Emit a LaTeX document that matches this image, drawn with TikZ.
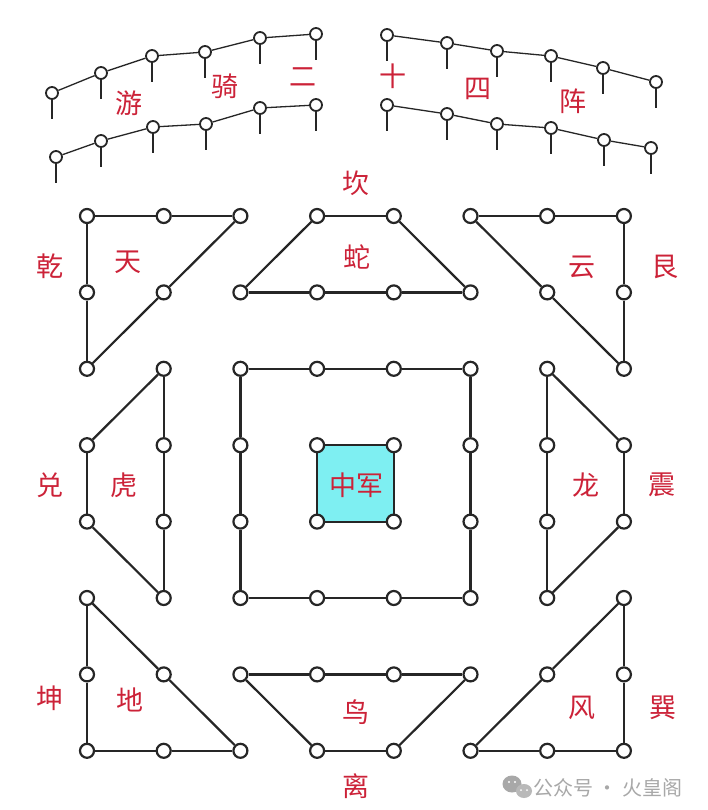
\documentclass[tikz,border=0pt]{standalone}
\usepackage{fontspec}
\newfontfamily\cjk{Noto Sans CJK SC}
\usetikzlibrary{backgrounds}
\definecolor{lblred}{HTML}{CC2238}
\definecolor{cyanfill}{HTML}{7EEFF2}
\definecolor{wmgrey}{HTML}{A8A8A8}
\definecolor{ink}{HTML}{262626}
\begin{document}
\begin{tikzpicture}[x=1pt,y=-1pt,
  dot/.style={circle,draw=ink,line width=2.2pt,fill=white,minimum size=14pt,inner sep=0pt},
  pinhead/.style={circle,draw=ink,line width=1.8pt,fill=white,minimum size=12pt,inner sep=0pt},
  pintail/.style={draw=ink,line width=1.8pt},
  arcline/.style={draw=ink,line width=1.3pt},
  edgeline/.style={draw=ink,line width=2.2pt},
  lbl/.style={text=lblred,font=\cjk\fontsize{27}{27}\selectfont,inner sep=0pt},
  wm/.style={text=wmgrey,font=\cjk\fontsize{20}{20}\selectfont,inner sep=0pt}]
\useasboundingbox (0,0) rectangle (708,810);

% grid nodes
\foreach \c/\r in {1/1,2/1,3/1,1/2,2/2,1/3,
                   4/1,5/1,3/2,4/2,5/2,6/2,
                   6/1,7/1,8/1,7/2,8/2,8/3,
                   2/3,2/4,2/5,2/6,1/4,1/5,
                   3/3,4/3,5/3,6/3,3/4,3/5,6/4,6/5,3/6,4/6,5/6,6/6,
                   4/4,5/4,4/5,5/5,
                   7/3,7/4,7/5,7/6,8/4,8/5,
                   1/6,1/7,1/8,2/7,2/8,3/8,
                   3/7,4/7,5/7,6/7,4/8,5/8,
                   8/6,8/7,8/8,7/7,6/8,7/8}
  \node[dot] (g\c\r) at ({87+(\c-1)*76.7},{216+(\r-1)*76.4}) {};

\begin{pgfonlayer}{background}
  \fill[white] (0,0) rectangle (708,810);
  \fill[cyanfill] (g44.center) rectangle (g55.center);
\end{pgfonlayer}

% Tian
\draw[edgeline] (g11) -- (g21) -- (g31);
\draw[edgeline] (g11) -- (g12) -- (g13);
\draw[edgeline] (g31) -- (g22) -- (g13);
% Snake
\draw[edgeline] (g41) -- (g51);
\draw[edgeline] (g32) -- (g42) -- (g52) -- (g62);
\draw[edgeline] (g41) -- (g32);
\draw[edgeline] (g51) -- (g62);
% Yun
\draw[edgeline] (g61) -- (g71) -- (g81);
\draw[edgeline] (g81) -- (g82) -- (g83);
\draw[edgeline] (g61) -- (g72) -- (g83);
% Tiger
\draw[edgeline] (g23) -- (g24) -- (g25) -- (g26);
\draw[edgeline] (g14) -- (g15);
\draw[edgeline] (g23) -- (g14);
\draw[edgeline] (g15) -- (g26);
% Square
\draw[edgeline] (g33) -- (g43) -- (g53) -- (g63) -- (g64) -- (g65) -- (g66)
  -- (g56) -- (g46) -- (g36) -- (g35) -- (g34) -- (g33);
% Inner
\draw[edgeline] (g44) -- (g54) -- (g55) -- (g45) -- (g44);
% Dragon
\draw[edgeline] (g73) -- (g74) -- (g75) -- (g76);
\draw[edgeline] (g84) -- (g85);
\draw[edgeline] (g73) -- (g84);
\draw[edgeline] (g85) -- (g76);
% Di
\draw[edgeline] (g16) -- (g17) -- (g18) -- (g28) -- (g38);
\draw[edgeline] (g16) -- (g27) -- (g38);
% Bird
\draw[edgeline] (g37) -- (g47) -- (g57) -- (g67);
\draw[edgeline] (g37) -- (g48);
\draw[edgeline] (g67) -- (g58);
\draw[edgeline] (g48) -- (g58);
% Feng
\draw[edgeline] (g86) -- (g87) -- (g88) -- (g78) -- (g68);
\draw[edgeline] (g86) -- (g77) -- (g68);

% top arcs (pins)
\foreach \n/\px/\py in {la1/52/93,la2/101/73,la3/152/56,la4/205/52,la5/260/38,la6/316/34,
                        lb1/56/157,lb2/101/141,lb3/153/127,lb4/206/124,lb5/260/108,lb6/316/105,
                        ra1/387/35,ra2/447/43,ra3/497/51,ra4/551/56,ra5/603/68,ra6/656/82,
                        rb1/387/105,rb2/447/114,rb3/497/124,rb4/551/128,rb5/604/140,rb6/651/148}
{
  \node[pinhead] (\n) at (\px,\py) {};
  \draw[pintail] (\n.south) -- ++(0,19);
}
\draw[arcline] (la1) -- (la2) -- (la3) -- (la4) -- (la5) -- (la6);
\draw[arcline] (lb1) -- (lb2) -- (lb3) -- (lb4) -- (lb5) -- (lb6);
\draw[arcline] (ra1) -- (ra2) -- (ra3) -- (ra4) -- (ra5) -- (ra6);
\draw[arcline] (rb1) -- (rb2) -- (rb3) -- (rb4) -- (rb5) -- (rb6);

% arc labels
\node[lbl] (t1) at (129,103) {游};
\node[lbl] (t2) at (225,86) {骑};
\node[lbl] (t3) at (303,77) {二};
\node[lbl] (t4) at (393,76) {十};
\node[lbl] (t5) at (478,89) {四};
\node[lbl] (t6) at (573,101) {阵};

% labels
\node[lbl] (qian) at (50,266) {乾};
\node[lbl] (tian) at (128,262) {天};
\node[lbl] (kan) at (356,183) {坎};
\node[lbl] (she) at (357,257) {蛇};
\node[lbl] (yun) at (582,267) {云};
\node[lbl] (gen) at (665,267) {艮};
\node[lbl] (dui) at (50,485) {兑};
\node[lbl] (hu) at (124,485) {虎};
\node[lbl] (zj) at (356,485) {中军};
\node[lbl] (long) at (586,485) {龙};
\node[lbl] (zhen) at (662,485) {震};
\node[lbl] (kun) at (50,698) {坤};
\node[lbl] (di) at (130,700) {地};
\node[lbl] (niao) at (356,712) {鸟};
\node[lbl] (li) at (356,786) {离};
\node[lbl] (feng) at (582,708) {风};
\node[lbl] (xun) at (663,708) {巽};

% watermark
\fill[wmgrey] (512,784) ellipse (9.5 and 8.5);
\fill[wmgrey!80] (524,791) ellipse (8 and 7);
\fill[white] (509,782) circle (1.2) (515,782) circle (1.2) (521,790) circle (1) (527,790) circle (1);
\node[wm,anchor=west] (wmtext) at (533,788) {公众号 · 火皇阁};
\end{tikzpicture}
\end{document}
